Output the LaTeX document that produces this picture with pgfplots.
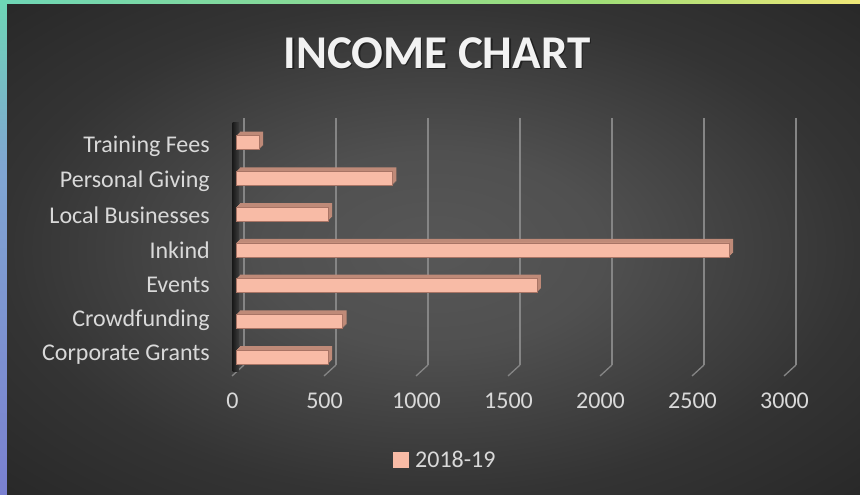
\documentclass[border=0pt]{standalone}
\usepackage{fontspec}
\setmainfont{Carlito}
\usepackage{pgfplots}
\pgfplotsset{compat=1.18}

\definecolor{bgmid}{HTML}{575757}
\definecolor{bgout}{HTML}{282828}
\definecolor{barfront}{HTML}{F8BBA6}
\definecolor{barside}{HTML}{BF8A78}
\definecolor{baredge}{HTML}{A87465}
\definecolor{gridc}{HTML}{858585}
\definecolor{lbl}{HTML}{D9D9D9}
\definecolor{ttl}{HTML}{F2F2F2}
\definecolor{stripA}{HTML}{7A80D0}
\definecolor{stripB}{HTML}{80A6D2}
\definecolor{stripC}{HTML}{6ED6B6}
\definecolor{stripD}{HTML}{A0DE78}
\definecolor{stripE}{HTML}{F0E878}

\pgfdeclareradialshading{panel}{\pgfpoint{0bp}{0bp}}{%
  color(0bp)=(bgmid); color(10bp)=(bgmid!85!bgout); color(25bp)=(bgout!75!bgmid);
  color(36bp)=(bgout); color(50bp)=(bgout)}

\begin{document}
\begin{tikzpicture}
\useasboundingbox (0bp,0bp) rectangle (860bp,495bp);
% frame
\fill[stripA] (0bp,0bp) rectangle (860bp,495bp);
\shade[bottom color=stripA, top color=stripB] (0bp,0bp) rectangle (7bp,330bp);
\shade[bottom color=stripB, top color=stripC] (0bp,330bp) rectangle (7bp,495bp);
\shade[left color=stripC, right color=stripD] (0bp,490bp) rectangle (600bp,495bp);
\shade[left color=stripD, right color=stripE] (600bp,490bp) rectangle (860bp,495bp);
% dark panel
\shade[shading=panel] (7bp,0bp) rectangle (860bp,490bp);

% title
\node[text=black, opacity=0.45, font=\fontsize{47bp}{52bp}\selectfont\bfseries] at (438.5bp,440.5bp) {INCOME CHART};
\node[text=ttl, font=\fontsize{47bp}{52bp}\selectfont\bfseries] at (437bp,442bp) {INCOME CHART};

% back wall with grid
\begin{axis}[
  at={(244bp,130bp)}, anchor=south west, scale only axis,
  width=552bp, height=247bp,
  xmin=0, xmax=3000, ymin=0, ymax=1,
  xtick={0,500,...,3000}, xticklabels={}, ytick=\empty,
  xmajorgrids, grid style={gridc, line width=1.3bp},
  axis line style={draw=none}, major tick length=0pt,
  clip=false,
]
\pgfplotsinvokeforeach{0,500,1000,1500,2000,2500,3000}{
  \draw[gridc, line width=1.3bp] (axis cs:#1,0) -- ++(-12bp,-11bp);
}
\end{axis}

% left wall
\shade[left color=black!90, right color=bgmid!70!black] (232.5bp,123bp) rectangle (239bp,372bp);

% bars
\begin{axis}[
  at={(236bp,120.1bp)}, anchor=south west, scale only axis,
  width=552bp, height=250.25bp,
  xmin=0, xmax=3000, ymin=-0.5, ymax=6.5,
  xtick={0,500,...,3000},
  ytick={0,...,6},
  yticklabels={Corporate Grants, Crowdfunding, {Events\ }, Inkind, Local Businesses, Personal Giving, Training Fees},
  axis line style={draw=none}, major tick length=0pt,
  /pgf/number format/assume math mode=true,
  /pgf/number format/1000 sep={},
  xticklabel style={font=\fontsize{24bp}{28bp}\selectfont, text=lbl, inner sep=0pt, anchor=north, yshift=-18bp, xshift=-3.5bp},
  yticklabel style={font=\fontsize{24bp}{28bp}\selectfont, text=lbl, inner sep=0pt, anchor=east, xshift=-26bp, yshift=2.5bp-1bp*\ticknum},
  xbar, bar width=14bp,
  clip=false,
  legend style={at={(0.2844,-0.340)}, anchor=west, draw=none, fill=none,
    font=\fontsize{24bp}{28bp}\selectfont, text=lbl, inner sep=0pt},
  legend image code/.code={\fill[barfront] (0bp,-7.5bp) rectangle (15bp,7.5bp); \path (19.5bp,0bp);},
]
\addplot[forget plot, draw=none, fill=barside, xshift=4bp, yshift=4bp] coordinates {(500,0) (580,1) (1635,2) (2680,3) (500,4) (850,5) (125,6)};
\addplot[forget plot, draw=none, fill=barside, xshift=3bp, yshift=3bp] coordinates {(500,0) (580,1) (1635,2) (2680,3) (500,4) (850,5) (125,6)};
\addplot[forget plot, draw=none, fill=barside, xshift=2bp, yshift=2bp] coordinates {(500,0) (580,1) (1635,2) (2680,3) (500,4) (850,5) (125,6)};
\addplot[forget plot, draw=none, fill=barside, xshift=1bp, yshift=1bp] coordinates {(500,0) (580,1) (1635,2) (2680,3) (500,4) (850,5) (125,6)};
\addplot[draw=baredge, line width=0.5bp, fill=barfront] coordinates {(500,0) (580,1) (1635,2) (2680,3) (500,4) (850,5) (125,6)};
\addlegendentry{2018-19}
\end{axis}
\end{tikzpicture}
\end{document}
